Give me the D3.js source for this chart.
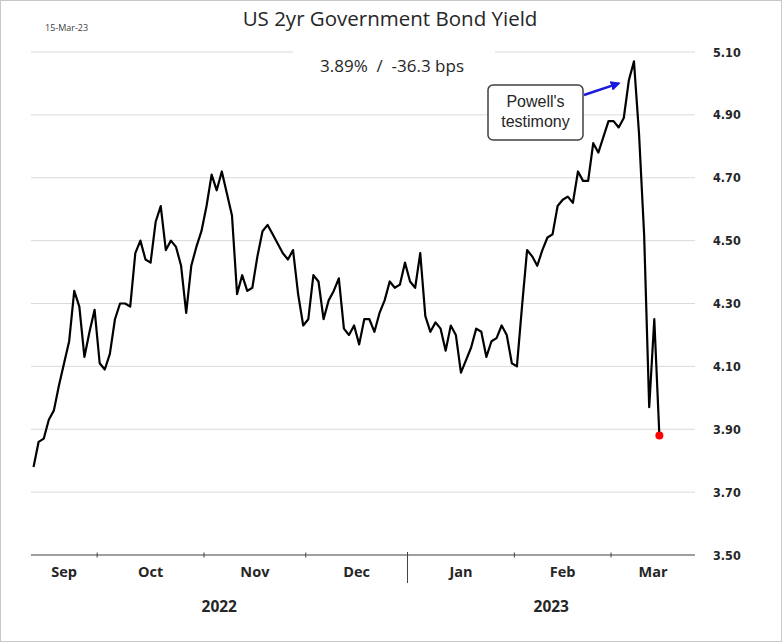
<!DOCTYPE html>
<html>
<head>
<meta charset="utf-8">
<script src="https://cdn.jsdelivr.net/npm/d3@7"></script>
<style>
  body { margin: 0; background: #fff; }
</style>
</head>
<body>
<div id="chart"></div>
<script>
// US 2yr yield, one value per trading row, 14-Sep-22 .. 15-Mar-23
const yields = [
  3.78, 3.86, 3.87, 3.93, 3.96, 4.04, 4.11, 4.18, 4.34, 4.29,
  4.13, 4.21, 4.28, 4.11, 4.09, 4.14, 4.25, 4.30, 4.30, 4.29,
  4.46, 4.50, 4.44, 4.43, 4.56, 4.61, 4.47, 4.50, 4.48, 4.42,
  4.27, 4.42, 4.48, 4.53, 4.61, 4.71, 4.66, 4.72, 4.65, 4.58,
  4.33, 4.39, 4.34, 4.35, 4.45, 4.53, 4.55, 4.52, 4.49, 4.46,
  4.44, 4.47, 4.33, 4.23, 4.25, 4.39, 4.37, 4.25, 4.31, 4.34,
  4.38, 4.22, 4.20, 4.23, 4.17, 4.25, 4.25, 4.21, 4.27, 4.31,
  4.37, 4.35, 4.36, 4.43, 4.37, 4.35, 4.46, 4.26, 4.21, 4.24,
  4.22, 4.15, 4.23, 4.20, 4.08, 4.12, 4.16, 4.22, 4.21, 4.13,
  4.18, 4.19, 4.23, 4.20, 4.11, 4.10, 4.29, 4.47, 4.45, 4.42,
  4.47, 4.51, 4.52, 4.61, 4.63, 4.64, 4.62, 4.72, 4.69, 4.69,
  4.81, 4.78, 4.83, 4.88, 4.88, 4.86, 4.89, 5.01, 5.07, 4.84,
  4.52, 3.97, 4.25, 3.88
];

// month categories: label and first row index of each month
const monthLabels = ["Sep", "Oct", "Nov", "Dec", "Jan", "Feb", "Mar"];
const monthStartIdx = [0, 13, 34, 54, 74, 95, 114];
const yearLabels = ["2022", "2023"];
const yearStartIdx = [0, 74];

const yTicks = [3.5, 3.7, 3.9, 4.1, 4.3, 4.5, 4.7, 4.9, 5.1];

const titleText = "US 2yr Government Bond Yield";
const subtitleText = "3.89%  /  -36.3 bps";
const dateText = "15-Mar-23";
const noteLines = ["Powell's", "testimony"];

const width = 784, height = 644;
const plot = { left: 31, right: 695, top: 52, bottom: 555 };

const svg = d3.select("#chart")
  .append("svg")
    .attr("width", width)
    .attr("height", height);

// outer frame
svg.append("rect")
  .attr("x", 0.5).attr("y", 0.5)
  .attr("width", 781).attr("height", 641)
  .attr("fill", "#fff")
  .attr("stroke", "#c8c8c8");

// scales
const x = d3.scaleLinear()
  .domain([-0.5, 130.0])
  .range([plot.left, plot.right]);

const y = d3.scaleLinear()
  .domain([3.5, 5.1])
  .range([plot.bottom, plot.top]);

// gridlines
svg.append("g")
  .selectAll("line")
  .data(yTicks.slice(1))
  .enter().append("line")
    .attr("x1", plot.left)
    .attr("x2", plot.right)
    .attr("y1", d => y(d))
    .attr("y2", d => y(d))
    .attr("stroke", "#dadada")
    .attr("stroke-width", 1);

// right axis labels
const yAxis = d3.axisRight(y)
  .tickValues(yTicks)
  .tickFormat(d3.format(".2f"))
  .tickSize(0)
  .tickPadding(18);

svg.append("g")
  .attr("transform", `translate(${plot.right},0)`)
  .call(yAxis)
  .call(g => g.select(".domain").remove())
  .selectAll("text")
    .attr("font-family", "'DejaVu Sans Condensed', 'DejaVu Sans', sans-serif")
    .attr("font-weight", "bold")
    .attr("font-size", 12.5)
    .attr("fill", "#262626");

// x axis line
svg.append("line")
  .attr("x1", plot.left).attr("x2", plot.right)
  .attr("y1", y(3.5)).attr("y2", y(3.5))
  .attr("stroke", "#404040")
  .attr("stroke-width", 1.2);

// month boundaries (half a row before each month start)
const bounds = monthStartIdx.slice(1).map(i => i - 0.5);
const yearBound = yearStartIdx[1] - 0.5;

svg.append("g")
  .selectAll("line")
  .data(bounds)
  .enter().append("line")
    .attr("x1", d => x(d)).attr("x2", d => x(d))
    .attr("y1", d => d === yearBound ? y(3.5) - 3 : y(3.5) - 2.5)
    .attr("y2", d => d === yearBound ? y(3.5) + 28 : y(3.5) + 2.5)
    .attr("stroke", "#404040")
    .attr("stroke-width", 1);

// month labels centred between boundaries
const edges = [x.domain()[0]].concat(bounds, [x.domain()[1]]);
svg.append("g")
  .selectAll("text")
  .data(monthLabels)
  .enter().append("text")
    .attr("x", (d, i) => (x(edges[i]) + x(edges[i + 1])) / 2)
    .attr("y", 577)
    .attr("text-anchor", "middle")
    .attr("font-family", "'Open Sans', sans-serif")
    .attr("font-weight", "bold")
    .attr("font-size", 14.5)
    .attr("fill", "#262626")
    .text(d => d);

// year labels
const yearEdges = [x.domain()[0], yearBound, x.domain()[1]];
svg.append("g")
  .selectAll("text")
  .data(yearLabels)
  .enter().append("text")
    .attr("x", (d, i) => (x(yearEdges[i]) + x(yearEdges[i + 1])) / 2)
    .attr("y", 612)
    .attr("text-anchor", "middle")
    .attr("font-family", "'Open Sans', sans-serif")
    .attr("font-weight", "bold")
    .attr("font-size", 15.5)
    .attr("fill", "#262626")
    .text(d => d);

// subtitle sits on a white box over the top gridline
svg.append("rect")
  .attr("x", 293).attr("y", 42)
  .attr("width", 202).attr("height", 38)
  .attr("fill", "#fff");

svg.append("text")
  .attr("x", 392)
  .attr("y", 72)
  .attr("text-anchor", "middle")
  .attr("font-family", "'Open Sans', sans-serif")
  .attr("font-size", 17)
  .attr("fill", "#262626")
  .attr("xml:space", "preserve")
  .style("white-space", "pre")
  .text(subtitleText);

// title and date
svg.append("text")
  .attr("x", 390)
  .attr("y", 26)
  .attr("text-anchor", "middle")
  .attr("font-family", "'Open Sans', sans-serif")
  .attr("font-size", 20.5)
  .attr("fill", "#262626")
  .text(titleText);

svg.append("text")
  .attr("x", 45)
  .attr("y", 31)
  .attr("font-family", "'Open Sans', sans-serif")
  .attr("font-size", 9)
  .attr("fill", "#404040")
  .text(dateText);

// the yield line
const line = d3.line()
  .x((d, i) => x(i))
  .y(d => y(d));

svg.append("path")
  .datum(yields)
  .attr("d", line)
  .attr("fill", "none")
  .attr("stroke", "#000")
  .attr("stroke-width", 2.2)
  .attr("stroke-linejoin", "round");

// last value marker
const lastIdx = yields.length - 1;
svg.append("circle")
  .attr("cx", x(lastIdx))
  .attr("cy", y(yields[lastIdx]))
  .attr("r", 4)
  .attr("fill", "#ff0000");

// annotation box + arrow
const note = svg.append("g");
note.append("rect")
  .attr("x", 488).attr("y", 85)
  .attr("width", 95).attr("height", 55)
  .attr("rx", 5)
  .attr("fill", "#fff")
  .attr("stroke", "#404040")
  .attr("stroke-width", 1.5);

note.selectAll("text")
  .data(noteLines)
  .enter().append("text")
    .attr("x", 535.5)
    .attr("y", (d, i) => 107 + i * 20)
    .attr("text-anchor", "middle")
    .attr("font-family", "'Liberation Sans', Arial, sans-serif")
    .attr("font-size", 16)
    .attr("fill", "#262626")
    .text(d => d);

svg.append("defs").append("marker")
  .attr("id", "arrow")
  .attr("viewBox", "0 0 10 10")
  .attr("refX", 8).attr("refY", 5)
  .attr("markerWidth", 4).attr("markerHeight", 4)
  .attr("orient", "auto")
  .append("path")
    .attr("d", "M0,0 L10,5 L0,10 z")
    .attr("fill", "#1a1adf");

const tipX = x(116) - 5, tipY = y(5.0);
svg.append("line")
  .attr("x1", 584).attr("y1", 95)
  .attr("x2", tipX).attr("y2", tipY)
  .attr("stroke", "#1a1adf")
  .attr("stroke-width", 2.5)
  .attr("marker-end", "url(#arrow)");
</script>
</body>
</html>
